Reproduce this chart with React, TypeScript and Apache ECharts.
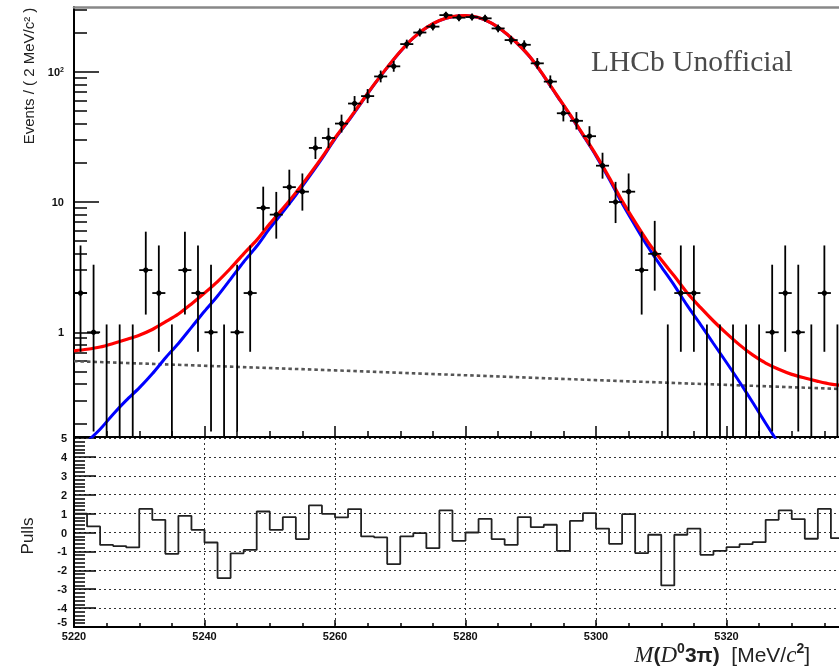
import React, { useEffect, useRef } from 'react';
import * as echarts from 'echarts';

// ---- data ----
const BIN_CENTERS = [
  5221, 5223, 5225, 5227, 5229, 5231, 5233, 5235, 5237, 5239,
  5241, 5243, 5245, 5247, 5249, 5251, 5253, 5255, 5257, 5259,
  5261, 5263, 5265, 5267, 5269, 5271, 5273, 5275, 5277, 5279,
  5281, 5283, 5285, 5287, 5289, 5291, 5293, 5295, 5297, 5299,
  5301, 5303, 5305, 5307, 5309, 5311, 5313, 5315, 5317, 5319,
  5321, 5323, 5325, 5327, 5329, 5331, 5333, 5335, 5337,
];
const COUNTS = [
  2, 1, 0, 0, 0, 3, 2, 0, 3, 2,
  1, 0, 1, 2, 9, 8, 13, 12, 26, 31,
  40, 57, 65, 92, 110, 163, 200, 222, 272, 260,
  263, 257, 215, 175, 161, 116, 84, 48, 42, 32,
  19, 10, 12, 3, 4, 0, 2, 2, 0, 0,
  0, 0, 0, 1, 2, 1, 0, 2, 0,
];
const PULLS = [
  1.0, 0.32, -0.66, -0.72, -0.79, 1.25, 0.67, -1.13, 0.88, 0.14,
  -0.53, -2.41, -1.1, -0.92, 1.11, 0.14, 0.81, -0.35, 1.43, 0.99,
  0.8, 1.24, -0.21, -0.26, -1.67, -0.21, -0.03, -0.83, 1.17, -0.44,
  0.0, 0.72, -0.35, -0.65, 0.81, 0.28, 0.41, -0.97, 0.61, 1.02,
  0.21, -0.6, 0.97, -1.09, -0.12, -2.8, -0.12, 0.2, -1.18, -0.97,
  -0.77, -0.62, -0.51, 0.67, 1.17, 0.71, -0.33, 1.25, -0.3,
];
const FIT_X = [
  5220, 5222, 5224, 5226, 5228, 5230, 5232, 5234, 5236, 5238,
  5240, 5242, 5244, 5246, 5248, 5250, 5252, 5254, 5256, 5258,
  5260, 5262, 5264, 5266, 5268, 5270, 5272, 5274, 5276, 5278,
  5280, 5282, 5284, 5286, 5288, 5290, 5292, 5294, 5296, 5298,
  5300, 5302, 5304, 5306, 5308, 5310, 5312, 5314, 5316, 5318,
  5320, 5322, 5324, 5326, 5328, 5330, 5332, 5334, 5336, 5338,
];
const FIT_TOTAL = [
  0.72, 0.74, 0.77, 0.82, 0.88, 0.95, 1.05, 1.2, 1.38, 1.65,
  2.0, 2.45, 3.1, 4.0, 5.1, 6.8, 8.9, 11.8, 16.0, 22.0,
  31.0, 42.0, 58.0, 80.0, 108, 143, 182, 218, 247, 265,
  270, 261, 236, 201, 164, 128, 93, 66, 47, 33,
  23, 15.5, 10.2, 7.0, 4.9, 3.6, 2.7, 2.0, 1.55, 1.22,
  0.98, 0.8, 0.67, 0.58, 0.52, 0.475, 0.445, 0.42, 0.4, 0.39,
];
const FIT_SIGNAL = [
  0.12, 0.145, 0.18, 0.235, 0.3, 0.374, 0.48, 0.634, 0.82, 1.09,
  1.45, 1.9, 2.56, 3.46, 4.57, 6.27, 8.37, 11.3, 15.5, 21.5,
  30.5, 41.5, 57.5, 79.5, 107.5, 142.5, 181.5, 217.5, 246.5, 264.5,
  269.5, 260.5, 235.5, 200.5, 163.6, 127.6, 92.6, 65.6, 46.6, 32.6,
  22.6, 15.1, 9.78, 6.58, 4.49, 3.19, 2.29, 1.6, 1.15, 0.82,
  0.586, 0.415, 0.29, 0.2, 0.14, 0.1,
];
const BKG_X = [5220, 5260, 5300, 5340];
const FIT_BKG = [0.6, 0.51, 0.429, 0.363];

// Poisson 68% intervals for small counts (RooFit convention)
const POISSON_LO = [0, 0.173, 0.708, 1.367, 2.086, 2.84, 3.62, 4.419, 5.232, 6.057, 6.891, 7.734, 8.585, 9.441];
const POISSON_HI = [1.148, 3.3, 4.638, 5.918, 7.163, 8.382, 9.584, 10.77, 11.95, 13.11, 14.27, 15.42, 16.56, 17.7];

const Y_MAJOR = [1, 10, 100];
const Y_MINOR = [0.2, 0.3, 0.4, 0.5, 0.6, 0.7, 0.8, 0.9, 2, 3, 4, 5, 6, 7, 8, 9, 20, 30, 40, 50, 60, 70, 80, 90, 200, 300];
const X_LABELS = [5220, 5240, 5260, 5280, 5300, 5320];
const X_MIN = 5220;
const X_MAX = 5340;
const Y_MIN = 0.157;
const Y_MAX = 314;

export default function App() {
  const ref = useRef<HTMLDivElement>(null);
  useEffect(() => {
    if (!ref.current) return;
    const chart = echarts.init(ref.current, null, { renderer: 'svg' });
    const sans = 'Liberation Sans';
    const serif = 'Liberation Serif';

    const errData = BIN_CENTERS.map((c, i) => {
      const n = COUNTS[i];
      const lo = n < POISSON_LO.length ? POISSON_LO[n] : n - Math.sqrt(n + 0.25) + 0.5;
      const hi = n < POISSON_HI.length ? POISSON_HI[n] : n + Math.sqrt(n + 0.25) + 0.5;
      return [c, n, lo, hi];
    });
    const pullSteps = BIN_CENTERS.map((c, i) => [c - 1, PULLS[i]]);
    pullSteps.push([BIN_CENTERS[BIN_CENTERS.length - 1] + 1, PULLS[PULLS.length - 1]]);

    const axisLabelStyle = { fontFamily: sans, fontSize: 11, fontWeight: 'bold', color: '#111' };
    const blk = { color: '#000', width: 1.5 };

    const option: any = {
      animation: false,
      grid: [
        { left: 74, top: 7, width: 783, height: 430, outerBoundsMode: 'none', containLabel: false },
        { left: 74, top: 438, width: 783, height: 189, outerBoundsMode: 'none', containLabel: false },
      ],
      xAxis: [
        {
          gridIndex: 0, type: 'value', min: X_MIN, max: X_MAX, interval: 20, position: 'bottom',
          axisLine: { show: true, onZero: false, lineStyle: { color: '#000', width: 2 } },
          axisTick: { show: true, inside: true, length: 11, lineStyle: blk },
          minorTick: { show: true, splitNumber: 4, length: 6, lineStyle: blk },
          axisLabel: { show: false }, splitLine: { show: false },
        },
        {
          gridIndex: 0, type: 'value', min: X_MIN, max: X_MAX, position: 'top',
          axisLine: { show: true, onZero: false, lineStyle: { color: '#888', width: 2.5 } },
          axisTick: { show: false }, axisLabel: { show: false }, splitLine: { show: false },
        },
        {
          gridIndex: 1, type: 'value', min: X_MIN, max: X_MAX, interval: 20, position: 'bottom',
          axisLine: { show: true, onZero: false, lineStyle: { color: '#000', width: 2 } },
          axisTick: { show: true, inside: true, length: 7, lineStyle: blk },
          minorTick: { show: true, splitNumber: 4, length: 4, lineStyle: blk },
          axisLabel: {
            ...axisLabelStyle, margin: 3, customValues: X_LABELS,
            formatter: (v: number) => String(Math.round(v)),
          },
          splitLine: { show: true, lineStyle: { color: '#333', width: 1, type: [2, 3] } },
        },
      ],
      yAxis: [
        {
          gridIndex: 0, type: 'log', logBase: 10, min: Y_MIN, max: Y_MAX, position: 'left',
          axisLine: { show: true, onZero: false, lineStyle: { color: '#000', width: 2 } },
          axisTick: { show: true, inside: true, length: 25, customValues: Y_MAJOR, lineStyle: blk },
          axisLabel: {
            customValues: Y_MAJOR, margin: 10,
            formatter: (v: number) => {
              const r = Math.round(v);
              return r === 100 ? '{b|10}{s|2}' : `{b|${r}}`;
            },
            rich: {
              b: { ...axisLabelStyle },
              s: { fontFamily: sans, fontSize: 7, fontWeight: 'bold', color: '#111', verticalAlign: 'top' },
            },
          },
          splitLine: { show: false }, minorTick: { show: false },
        },
        {
          gridIndex: 0, type: 'log', logBase: 10, min: Y_MIN, max: Y_MAX, position: 'left', offset: 0,
          axisLine: { show: false },
          axisTick: { show: true, inside: true, length: 13, customValues: Y_MINOR, lineStyle: blk },
          axisLabel: { show: false }, splitLine: { show: false },
        },
        {
          gridIndex: 1, type: 'value', min: -5, max: 5, interval: 1, position: 'left',
          axisLine: { show: true, onZero: false, lineStyle: { color: '#000', width: 2 } },
          axisTick: { show: true, inside: true, length: 22, lineStyle: blk },
          minorTick: { show: true, splitNumber: 5, length: 11, lineStyle: blk },
          axisLabel: {
            ...axisLabelStyle, margin: 7, verticalAlignMinLabel: 'bottom',
            formatter: (v: number) => String(Math.round(v)),
          },
          splitLine: { show: true, lineStyle: { color: '#333', width: 1, type: [2, 3] } },
        },
      ],
      series: [
        {
          type: 'line', xAxisIndex: 0, yAxisIndex: 0, symbol: 'none', silent: true,
          data: BKG_X.map((x, i) => [x, FIT_BKG[i]]),
          lineStyle: { color: '#555', width: 2.6, type: [3.5, 3] }, z: 2,
        },
        {
          type: 'line', xAxisIndex: 0, yAxisIndex: 0, symbol: 'none', silent: true, smooth: 0.3,
          data: FIT_SIGNAL.map((y, i) => [FIT_X[i], y]),
          lineStyle: { color: '#0000ff', width: 3 }, z: 3,
        },
        {
          type: 'line', xAxisIndex: 0, yAxisIndex: 0, symbol: 'none', silent: true, smooth: 0.3,
          data: FIT_TOTAL.map((y, i) => [FIT_X[i], y]),
          lineStyle: { color: '#ff0000', width: 3.2 }, z: 4,
        },
        {
          type: 'custom', xAxisIndex: 0, yAxisIndex: 0, z: 5, silent: true,
          data: errData,
          encode: { x: 0, y: 1 },
          renderItem: (params: any, api: any) => {
            const x = api.value(0);
            const n = api.value(1);
            const lo = api.value(2);
            const hi = api.value(3);
            const top = api.coord([x, Math.min(hi, Y_MAX)]);
            const bot = api.coord([x, Math.max(lo, Y_MIN)]);
            const st = { stroke: '#000', lineWidth: 1.8 };
            const children: any[] = [
              { type: 'line', shape: { x1: top[0], y1: top[1], x2: bot[0], y2: bot[1] }, style: st },
            ];
            if (n > 0) {
              const c = api.coord([x, n]);
              const l = api.coord([x - 1, n]);
              const r = api.coord([x + 1, n]);
              children.push({ type: 'line', shape: { x1: l[0], y1: c[1], x2: r[0], y2: c[1] }, style: st });
              children.push({ type: 'circle', shape: { cx: c[0], cy: c[1], r: 2.7 }, style: { fill: '#000' } });
            }
            return { type: 'group', children };
          },
        },
        {
          type: 'line', xAxisIndex: 2, yAxisIndex: 2, symbol: 'none', silent: true, step: 'end',
          data: pullSteps,
          lineStyle: { color: '#222', width: 1.8 }, z: 4,
        },
      ],
      graphic: [
        {
          type: 'text', x: 28, y: 76, rotation: Math.PI / 2,
          style: { text: 'Events / ( 2 MeV/c² )', fontFamily: sans, fontSize: 15, fill: '#222', align: 'center', verticalAlign: 'middle' },
        },
        {
          type: 'text', x: 27, y: 536, rotation: Math.PI / 2,
          style: { text: 'Pulls', fontFamily: sans, fontSize: 17, fill: '#222', align: 'center', verticalAlign: 'middle' },
        },
        {
          type: 'text', x: 591, y: 61,
          style: { text: 'LHCb Unofficial', fontFamily: serif, fontSize: 29.5, fill: '#4a4a4a', align: 'left', verticalAlign: 'middle' },
        },
        {
          type: 'text', x: 810, y: 654,
          style: {
            text: '{i|M}{nb|(}{i|D}{sup|0}{nb|3π)}{n|  [MeV/}{i|c}{sup|2}{n|]}',
            align: 'right', verticalAlign: 'middle',
            rich: {
              i: { fontFamily: serif, fontStyle: 'italic', fontSize: 23, fill: '#222', lineHeight: 26 },
              n: { fontFamily: sans, fontSize: 21, fill: '#222', lineHeight: 26 },
              nb: { fontFamily: sans, fontSize: 21, fontWeight: 'bold', fill: '#222', lineHeight: 26 },
              sup: { fontFamily: sans, fontSize: 14, fontWeight: 'bold', fill: '#222', verticalAlign: 'top', lineHeight: 14 },
            },
          },
        },
      ],
    };
    chart.setOption(option);
    return () => chart.dispose();
  }, []);
  return <div ref={ref} style={{ position: 'fixed', left: 0, top: 0, width: 839, height: 668 }} />;
}
